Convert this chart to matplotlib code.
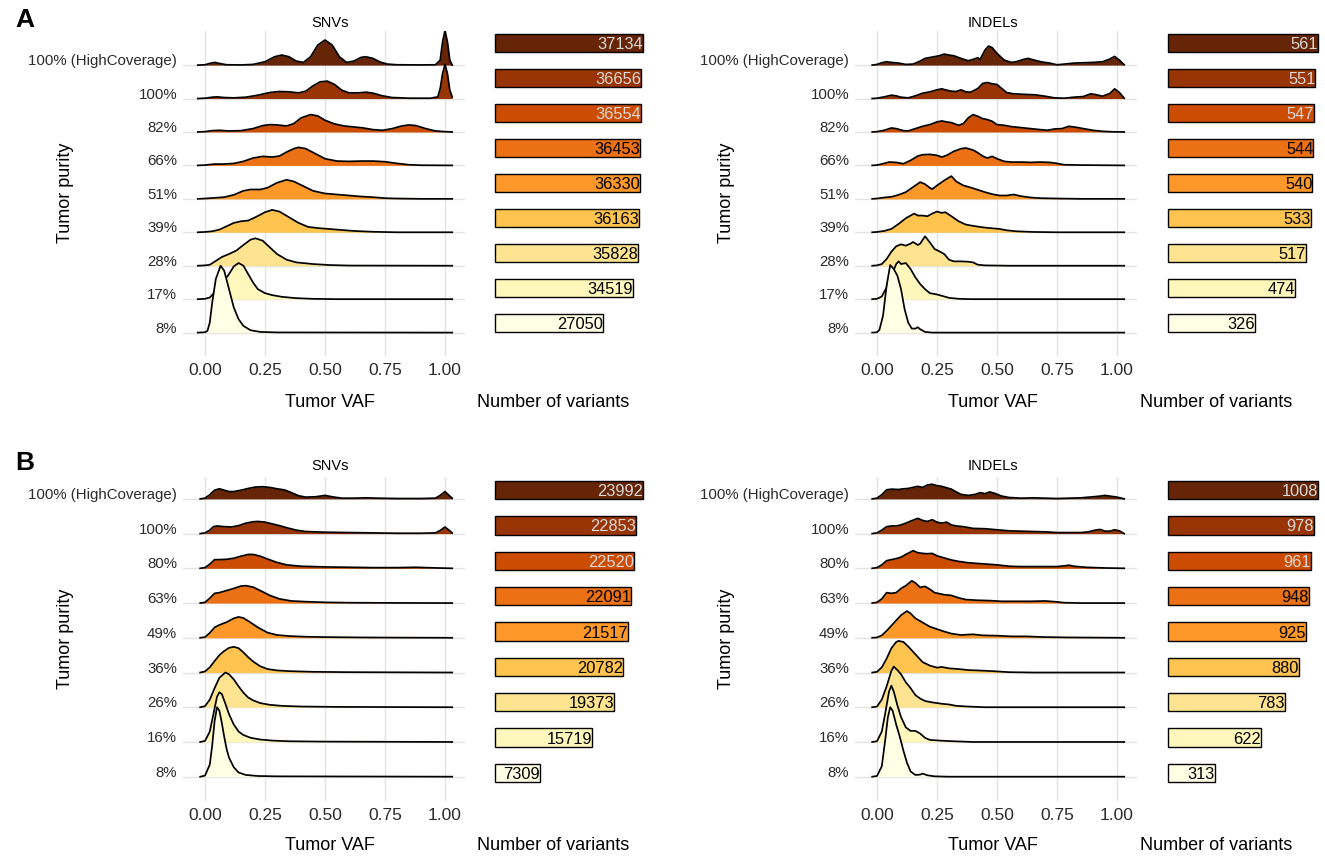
import numpy as np
import matplotlib
matplotlib.use('Agg')
import matplotlib.pyplot as plt

plt.rcParams['font.family'] = ['Liberation Sans', 'DejaVu Sans']

W, H = 1325, 856

# Tumor purity levels (top -> bottom)
purity_a = ['100% (HighCoverage)', '100%', '82%', '66%', '51%', '39%', '28%', '17%', '8%']
purity_b = ['100% (HighCoverage)', '100%', '80%', '63%', '49%', '36%', '26%', '16%', '8%']

# YlOrBr, dark to light
colors = ['#662506', '#993404', '#cc4c02', '#ec7014', '#fe9929',
          '#fec44f', '#fee391', '#fff7bc', '#ffffe5']

# Number of variants (top -> bottom)
snv_a_counts = [37134, 36656, 36554, 36453, 36330, 36163, 35828, 34519, 27050]
indel_a_counts = [561, 551, 547, 544, 540, 533, 517, 474, 326]
snv_b_counts = [23992, 22853, 22520, 22091, 21517, 20782, 19373, 15719, 7309]
indel_b_counts = [1008, 978, 961, 948, 925, 880, 783, 622, 313]

# Density curves: (VAF, height in row units), top -> bottom
snv_a = [
    [(-0.03, 0), (0.0, 0.01), (0.02, 0.05), (0.04, 0.08), (0.06, 0.05), (0.09, 0.01), (0.15, 0.005), (0.2, 0.02),
     (0.25, 0.1), (0.29, 0.25), (0.32, 0.3), (0.35, 0.25), (0.38, 0.12), (0.41, 0.08), (0.44, 0.25), (0.47, 0.6),
     (0.50, 0.75), (0.53, 0.6), (0.56, 0.25), (0.59, 0.08), (0.62, 0.12), (0.65, 0.23), (0.67, 0.25), (0.70, 0.2),
     (0.73, 0.09), (0.76, 0.03), (0.8, 0.01), (0.9, 0.005), (0.96, 0.01), (0.98, 0.15), (0.99, 0.7), (1.0, 1.03),
     (1.01, 0.7), (1.02, 0.15), (1.03, 0.0)],
    [(-0.03, 0), (0.0, 0.01), (0.03, 0.04), (0.05, 0.05), (0.08, 0.03), (0.12, 0.02), (0.17, 0.04), (0.22, 0.1),
     (0.27, 0.18), (0.31, 0.21), (0.35, 0.2), (0.39, 0.17), (0.42, 0.22), (0.45, 0.38), (0.48, 0.5), (0.51, 0.52),
     (0.54, 0.42), (0.57, 0.25), (0.60, 0.17), (0.64, 0.17), (0.67, 0.19), (0.70, 0.16), (0.74, 0.08), (0.78, 0.03),
     (0.85, 0.01), (0.94, 0.01), (0.97, 0.05), (0.98, 0.3), (0.99, 0.75), (1.0, 1.02), (1.01, 0.75), (1.02, 0.25),
     (1.03, 0.05)],
    [(-0.03, 0), (0.0, 0.01), (0.03, 0.04), (0.06, 0.05), (0.1, 0.03), (0.15, 0.04), (0.2, 0.1), (0.24, 0.19),
     (0.27, 0.22), (0.30, 0.21), (0.34, 0.18), (0.37, 0.25), (0.40, 0.42), (0.44, 0.52), (0.47, 0.48), (0.50, 0.35),
     (0.54, 0.24), (0.58, 0.18), (0.62, 0.15), (0.66, 0.12), (0.70, 0.07), (0.74, 0.05), (0.78, 0.1), (0.82, 0.18),
     (0.85, 0.21), (0.88, 0.19), (0.92, 0.1), (0.96, 0.03), (1.0, 0.01), (1.03, 0.0)],
    [(-0.03, 0), (0.0, 0.01), (0.04, 0.04), (0.08, 0.04), (0.12, 0.06), (0.16, 0.12), (0.2, 0.22), (0.24, 0.27),
     (0.28, 0.25), (0.31, 0.28), (0.34, 0.4), (0.37, 0.5), (0.39, 0.54), (0.42, 0.5), (0.46, 0.35), (0.50, 0.2),
     (0.55, 0.13), (0.6, 0.12), (0.65, 0.13), (0.7, 0.13), (0.75, 0.11), (0.8, 0.06), (0.85, 0.02), (0.9, 0.005),
     (1.03, 0.0)],
    [(-0.03, 0), (0.0, 0.01), (0.04, 0.03), (0.08, 0.05), (0.12, 0.12), (0.16, 0.24), (0.19, 0.28), (0.23, 0.28),
     (0.26, 0.33), (0.30, 0.48), (0.34, 0.57), (0.37, 0.52), (0.41, 0.38), (0.45, 0.24), (0.5, 0.16), (0.55, 0.13),
     (0.6, 0.1), (0.65, 0.07), (0.7, 0.05), (0.75, 0.02), (0.8, 0.01), (0.9, 0.0), (1.03, 0.0)],
    [(-0.03, 0), (0.0, 0.01), (0.03, 0.03), (0.06, 0.08), (0.09, 0.18), (0.12, 0.28), (0.15, 0.33), (0.18, 0.35),
     (0.21, 0.45), (0.25, 0.6), (0.28, 0.67), (0.31, 0.62), (0.35, 0.45), (0.39, 0.28), (0.43, 0.16), (0.48, 0.12),
     (0.55, 0.08), (0.62, 0.04), (0.7, 0.015), (0.8, 0.0), (1.03, 0.0)],
    [(-0.03, 0), (0.0, 0.01), (0.02, 0.03), (0.04, 0.12), (0.07, 0.26), (0.10, 0.35), (0.13, 0.45), (0.16, 0.62),
     (0.19, 0.78), (0.21, 0.82), (0.24, 0.75), (0.27, 0.55), (0.30, 0.35), (0.34, 0.18), (0.38, 0.1), (0.45, 0.05),
     (0.52, 0.02), (0.6, 0.005), (1.03, 0.0)],
    [(-0.03, 0), (0.0, 0.01), (0.02, 0.05), (0.04, 0.2), (0.06, 0.4), (0.08, 0.55), (0.10, 0.75), (0.12, 0.98),
     (0.14, 1.08), (0.16, 1.0), (0.18, 0.75), (0.20, 0.5), (0.22, 0.3), (0.25, 0.18), (0.28, 0.12), (0.32, 0.07),
     (0.38, 0.03), (0.45, 0.01), (0.55, 0.0), (1.03, 0.0)],
    [(-0.03, 0), (0.0, 0.01), (0.01, 0.05), (0.02, 0.3), (0.03, 0.9), (0.045, 1.6), (0.065, 2.0), (0.08, 1.85),
     (0.10, 1.3), (0.12, 0.75), (0.14, 0.4), (0.16, 0.2), (0.19, 0.07), (0.23, 0.02), (0.3, 0.005), (1.03, 0.0)],
]

indel_a = [
    [(-0.02, 0), (0.0, 0.02), (0.02, 0.07), (0.04, 0.1), (0.06, 0.08), (0.09, 0.06), (0.12, 0.02), (0.15, 0.03),
     (0.18, 0.12), (0.2, 0.2), (0.23, 0.24), (0.26, 0.28), (0.28, 0.33), (0.30, 0.3), (0.32, 0.28), (0.35, 0.2),
     (0.38, 0.13), (0.40, 0.17), (0.42, 0.22), (0.43, 0.17), (0.45, 0.45), (0.465, 0.57), (0.48, 0.52), (0.5, 0.35),
     (0.53, 0.15), (0.56, 0.08), (0.58, 0.1), (0.61, 0.17), (0.63, 0.2), (0.66, 0.14), (0.69, 0.09), (0.72, 0.06),
     (0.75, 0.01), (0.78, 0.03), (0.82, 0.06), (0.86, 0.07), (0.9, 0.08), (0.94, 0.1), (0.97, 0.18), (0.99, 0.26),
     (1.01, 0.15), (1.03, 0.01)],
    [(-0.02, 0), (0.0, 0.01), (0.03, 0.05), (0.06, 0.1), (0.08, 0.08), (0.1, 0.04), (0.13, 0.02), (0.16, 0.08),
     (0.19, 0.16), (0.22, 0.2), (0.25, 0.26), (0.27, 0.29), (0.29, 0.25), (0.31, 0.22), (0.33, 0.21), (0.35, 0.26),
     (0.37, 0.2), (0.39, 0.19), (0.42, 0.3), (0.44, 0.45), (0.46, 0.48), (0.48, 0.44), (0.50, 0.42), (0.52, 0.3),
     (0.54, 0.18), (0.57, 0.14), (0.60, 0.13), (0.63, 0.12), (0.66, 0.11), (0.7, 0.07), (0.74, 0.02), (0.78, 0.01),
     (0.82, 0.04), (0.86, 0.06), (0.89, 0.14), (0.91, 0.12), (0.94, 0.07), (0.97, 0.15), (0.99, 0.29), (1.01, 0.18),
     (1.03, 0.01)],
    [(-0.02, 0), (0.0, 0.01), (0.03, 0.05), (0.06, 0.12), (0.08, 0.1), (0.11, 0.04), (0.13, 0.03), (0.16, 0.1),
     (0.19, 0.17), (0.22, 0.22), (0.25, 0.3), (0.27, 0.33), (0.29, 0.3), (0.31, 0.28), (0.34, 0.2), (0.36, 0.25),
     (0.38, 0.42), (0.40, 0.52), (0.42, 0.47), (0.44, 0.4), (0.46, 0.37), (0.48, 0.32), (0.50, 0.22), (0.53, 0.2),
     (0.56, 0.16), (0.6, 0.13), (0.64, 0.1), (0.68, 0.07), (0.71, 0.05), (0.74, 0.09), (0.77, 0.1), (0.80, 0.17),
     (0.83, 0.14), (0.86, 0.1), (0.9, 0.05), (0.94, 0.02), (0.98, 0.005), (1.03, 0.0)],
    [(-0.02, 0), (0.0, 0.01), (0.03, 0.06), (0.05, 0.1), (0.08, 0.09), (0.11, 0.05), (0.14, 0.15), (0.17, 0.28),
     (0.19, 0.32), (0.22, 0.33), (0.25, 0.3), (0.27, 0.25), (0.29, 0.3), (0.32, 0.42), (0.35, 0.5), (0.37, 0.52),
     (0.40, 0.46), (0.42, 0.38), (0.44, 0.28), (0.46, 0.22), (0.48, 0.27), (0.50, 0.2), (0.53, 0.12), (0.56, 0.1),
     (0.6, 0.1), (0.64, 0.09), (0.68, 0.1), (0.72, 0.09), (0.75, 0.06), (0.78, 0.02), (0.85, 0.01), (1.03, 0.0)],
    [(-0.02, 0), (0.0, 0.01), (0.03, 0.04), (0.06, 0.06), (0.09, 0.12), (0.12, 0.2), (0.15, 0.35), (0.18, 0.5),
     (0.20, 0.44), (0.22, 0.33), (0.23, 0.29), (0.25, 0.4), (0.28, 0.55), (0.31, 0.68), (0.33, 0.52), (0.36, 0.4),
     (0.39, 0.34), (0.42, 0.27), (0.45, 0.2), (0.48, 0.14), (0.51, 0.1), (0.54, 0.1), (0.57, 0.13), (0.6, 0.08),
     (0.64, 0.04), (0.68, 0.02), (0.75, 0.01), (0.85, 0.0), (1.03, 0.0)],
    [(-0.02, 0), (0.0, 0.01), (0.03, 0.04), (0.06, 0.1), (0.09, 0.25), (0.12, 0.42), (0.14, 0.5), (0.155, 0.56),
     (0.17, 0.5), (0.19, 0.5), (0.21, 0.48), (0.23, 0.56), (0.25, 0.62), (0.27, 0.58), (0.285, 0.6), (0.31, 0.48),
     (0.34, 0.33), (0.37, 0.23), (0.41, 0.18), (0.45, 0.14), (0.48, 0.12), (0.51, 0.1), (0.54, 0.06), (0.58, 0.03),
     (0.65, 0.01), (0.75, 0.0), (1.03, 0.0)],
    [(-0.02, 0), (0.0, 0.01), (0.02, 0.05), (0.04, 0.2), (0.06, 0.42), (0.08, 0.58), (0.10, 0.64), (0.12, 0.6),
     (0.14, 0.66), (0.15, 0.71), (0.17, 0.62), (0.18, 0.66), (0.20, 0.88), (0.22, 0.7), (0.24, 0.5), (0.26, 0.43),
     (0.28, 0.35), (0.30, 0.18), (0.32, 0.13), (0.35, 0.13), (0.38, 0.12), (0.40, 0.1), (0.42, 0.03), (0.45, 0.01),
     (0.55, 0.0), (1.03, 0.0)],
    [(-0.02, 0), (0.0, 0.01), (0.02, 0.08), (0.04, 0.35), (0.06, 0.7), (0.08, 1.05), (0.09, 1.13), (0.10, 1.05),
     (0.12, 1.08), (0.14, 0.9), (0.16, 0.65), (0.18, 0.45), (0.20, 0.3), (0.22, 0.18), (0.25, 0.14), (0.27, 0.1),
     (0.3, 0.04), (0.34, 0.01), (0.4, 0.0), (1.03, 0.0)],
    [(-0.02, 0), (0.0, 0.01), (0.01, 0.08), (0.025, 0.5), (0.04, 1.4), (0.055, 2.02), (0.07, 1.9), (0.085, 1.7),
     (0.10, 1.3), (0.115, 0.7), (0.13, 0.3), (0.145, 0.12), (0.16, 0.12), (0.17, 0.16), (0.18, 0.1), (0.2, 0.02),
     (0.23, 0.0), (1.03, 0.0)],
]

snv_b = [
    [(-0.02, 0), (0.0, 0.02), (0.02, 0.12), (0.04, 0.25), (0.06, 0.29), (0.08, 0.25), (0.10, 0.21), (0.12, 0.21),
     (0.15, 0.25), (0.18, 0.3), (0.21, 0.34), (0.24, 0.35), (0.27, 0.33), (0.30, 0.29), (0.33, 0.26), (0.36, 0.18),
     (0.39, 0.09), (0.42, 0.05), (0.46, 0.06), (0.5, 0.1), (0.53, 0.06), (0.57, 0.02), (0.62, 0.02), (0.67, 0.03),
     (0.72, 0.02), (0.8, 0.01), (0.9, 0.01), (0.96, 0.02), (0.98, 0.1), (1.0, 0.21), (1.02, 0.08), (1.03, 0.02)],
    [(-0.02, 0), (0.0, 0.02), (0.02, 0.1), (0.035, 0.2), (0.05, 0.22), (0.08, 0.2), (0.11, 0.19), (0.14, 0.23),
     (0.17, 0.3), (0.20, 0.34), (0.22, 0.35), (0.25, 0.33), (0.28, 0.28), (0.31, 0.23), (0.34, 0.17), (0.38, 0.1),
     (0.42, 0.06), (0.5, 0.04), (0.6, 0.03), (0.7, 0.02), (0.8, 0.01), (0.9, 0.01), (0.96, 0.02), (0.98, 0.09),
     (1.0, 0.19), (1.02, 0.08), (1.03, 0.02)],
    [(-0.02, 0), (0.0, 0.02), (0.02, 0.12), (0.04, 0.25), (0.06, 0.25), (0.09, 0.26), (0.12, 0.29), (0.15, 0.35),
     (0.18, 0.4), (0.20, 0.4), (0.23, 0.35), (0.26, 0.27), (0.30, 0.17), (0.34, 0.1), (0.4, 0.06), (0.5, 0.04),
     (0.6, 0.03), (0.7, 0.02), (0.8, 0.02), (0.88, 0.03), (0.92, 0.02), (0.97, 0.01), (1.03, 0.0)],
    [(-0.02, 0), (0.0, 0.02), (0.02, 0.14), (0.04, 0.28), (0.06, 0.3), (0.09, 0.36), (0.12, 0.42), (0.15, 0.49),
     (0.17, 0.5), (0.20, 0.46), (0.23, 0.36), (0.27, 0.22), (0.31, 0.12), (0.36, 0.06), (0.42, 0.04), (0.5, 0.02),
     (0.6, 0.01), (0.75, 0.005), (1.03, 0.0)],
    [(-0.02, 0), (0.0, 0.02), (0.02, 0.14), (0.04, 0.3), (0.06, 0.37), (0.09, 0.45), (0.12, 0.56), (0.14, 0.6),
     (0.16, 0.57), (0.19, 0.44), (0.22, 0.3), (0.26, 0.15), (0.30, 0.08), (0.35, 0.05), (0.42, 0.03), (0.5, 0.02),
     (0.65, 0.01), (0.8, 0.005), (1.03, 0.0)],
    [(-0.02, 0), (0.0, 0.03), (0.02, 0.15), (0.04, 0.33), (0.06, 0.5), (0.08, 0.62), (0.10, 0.71), (0.12, 0.74),
     (0.14, 0.7), (0.16, 0.58), (0.18, 0.44), (0.20, 0.32), (0.23, 0.18), (0.26, 0.1), (0.3, 0.06), (0.35, 0.04),
     (0.45, 0.02), (0.6, 0.01), (1.03, 0.0)],
    [(-0.02, 0), (0.0, 0.03), (0.02, 0.22), (0.04, 0.55), (0.06, 0.85), (0.085, 1.0), (0.10, 0.95), (0.12, 0.8),
     (0.14, 0.6), (0.16, 0.42), (0.18, 0.28), (0.20, 0.2), (0.23, 0.12), (0.27, 0.07), (0.32, 0.04), (0.4, 0.02),
     (0.55, 0.01), (1.03, 0.0)],
    [(-0.02, 0), (0.0, 0.03), (0.02, 0.3), (0.035, 0.8), (0.05, 1.3), (0.06, 1.43), (0.07, 1.38), (0.085, 1.1),
     (0.10, 0.8), (0.12, 0.5), (0.14, 0.3), (0.16, 0.2), (0.19, 0.12), (0.23, 0.07), (0.28, 0.04), (0.35, 0.02),
     (0.5, 0.01), (1.03, 0.0)],
    [(-0.02, 0), (0.0, 0.03), (0.02, 0.35), (0.03, 0.9), (0.04, 1.6), (0.05, 2.0), (0.06, 1.9), (0.07, 1.55),
     (0.08, 1.15), (0.09, 0.8), (0.10, 0.55), (0.12, 0.27), (0.14, 0.12), (0.17, 0.05), (0.22, 0.02), (0.3, 0.01),
     (1.03, 0.0)],
]

indel_b = [
    [(-0.02, 0), (0.0, 0.02), (0.02, 0.12), (0.04, 0.26), (0.06, 0.28), (0.09, 0.27), (0.11, 0.29), (0.13, 0.3),
     (0.15, 0.33), (0.17, 0.36), (0.19, 0.33), (0.21, 0.4), (0.23, 0.42), (0.25, 0.38), (0.27, 0.36), (0.29, 0.32),
     (0.31, 0.28), (0.33, 0.2), (0.35, 0.13), (0.38, 0.1), (0.41, 0.13), (0.43, 0.18), (0.45, 0.15), (0.47, 0.2),
     (0.49, 0.16), (0.52, 0.08), (0.55, 0.04), (0.6, 0.02), (0.65, 0.03), (0.7, 0.02), (0.75, 0.01), (0.8, 0.02),
     (0.85, 0.03), (0.9, 0.06), (0.93, 0.08), (0.95, 0.1), (0.97, 0.08), (1.0, 0.05), (1.03, 0.0)],
    [(-0.02, 0), (0.0, 0.02), (0.02, 0.1), (0.04, 0.2), (0.06, 0.22), (0.08, 0.22), (0.10, 0.25), (0.12, 0.3),
     (0.14, 0.36), (0.17, 0.44), (0.19, 0.38), (0.21, 0.35), (0.23, 0.4), (0.25, 0.33), (0.27, 0.3), (0.29, 0.33),
     (0.31, 0.25), (0.33, 0.22), (0.36, 0.2), (0.4, 0.15), (0.45, 0.14), (0.5, 0.11), (0.55, 0.08), (0.6, 0.07),
     (0.65, 0.06), (0.7, 0.05), (0.75, 0.03), (0.8, 0.03), (0.85, 0.03), (0.88, 0.05), (0.91, 0.1), (0.93, 0.12),
     (0.95, 0.07), (0.97, 0.07), (0.99, 0.11), (1.01, 0.08), (1.03, 0.0)],
    [(-0.02, 0), (0.0, 0.02), (0.02, 0.1), (0.04, 0.22), (0.06, 0.25), (0.08, 0.28), (0.10, 0.32), (0.12, 0.4),
     (0.14, 0.47), (0.15, 0.51), (0.17, 0.45), (0.19, 0.43), (0.21, 0.42), (0.23, 0.43), (0.25, 0.36), (0.28, 0.3),
     (0.31, 0.24), (0.34, 0.2), (0.38, 0.16), (0.42, 0.14), (0.46, 0.12), (0.5, 0.1), (0.55, 0.06), (0.6, 0.05),
     (0.65, 0.05), (0.7, 0.05), (0.75, 0.05), (0.78, 0.07), (0.80, 0.09), (0.82, 0.06), (0.87, 0.03), (0.95, 0.01),
     (1.03, 0.0)],
    [(-0.02, 0), (0.0, 0.02), (0.02, 0.12), (0.04, 0.3), (0.06, 0.28), (0.08, 0.3), (0.10, 0.42), (0.12, 0.5),
     (0.145, 0.64), (0.16, 0.58), (0.18, 0.45), (0.20, 0.48), (0.22, 0.4), (0.24, 0.3), (0.26, 0.27), (0.28, 0.24),
     (0.31, 0.22), (0.34, 0.15), (0.37, 0.1), (0.42, 0.08), (0.47, 0.07), (0.52, 0.05), (0.58, 0.05), (0.64, 0.05),
     (0.7, 0.06), (0.74, 0.04), (0.78, 0.01), (0.85, 0.0), (1.03, 0.0)],
    [(-0.02, 0), (0.0, 0.01), (0.02, 0.07), (0.04, 0.2), (0.06, 0.35), (0.08, 0.5), (0.10, 0.65), (0.125, 0.77),
     (0.14, 0.7), (0.16, 0.56), (0.18, 0.48), (0.20, 0.4), (0.22, 0.32), (0.25, 0.25), (0.28, 0.18), (0.31, 0.12),
     (0.35, 0.08), (0.40, 0.1), (0.44, 0.07), (0.5, 0.06), (0.56, 0.04), (0.62, 0.04), (0.7, 0.02), (0.8, 0.01),
     (1.03, 0.0)],
    [(-0.02, 0), (0.0, 0.02), (0.02, 0.15), (0.04, 0.4), (0.06, 0.7), (0.08, 0.88), (0.09, 0.91), (0.11, 0.88),
     (0.13, 0.75), (0.15, 0.6), (0.17, 0.45), (0.19, 0.3), (0.22, 0.2), (0.25, 0.14), (0.27, 0.16), (0.30, 0.12),
     (0.34, 0.1), (0.38, 0.07), (0.42, 0.06), (0.48, 0.04), (0.55, 0.01), (0.65, 0.0), (1.03, 0.0)],
    [(-0.02, 0), (0.0, 0.02), (0.02, 0.22), (0.04, 0.6), (0.06, 1.05), (0.07, 1.17), (0.085, 1.07), (0.10, 0.95),
     (0.12, 0.72), (0.14, 0.55), (0.16, 0.35), (0.18, 0.25), (0.20, 0.18), (0.23, 0.14), (0.27, 0.1), (0.3, 0.08),
     (0.33, 0.04), (0.38, 0.02), (0.45, 0.0), (1.03, 0.0)],
    [(-0.02, 0), (0.0, 0.02), (0.02, 0.3), (0.035, 0.85), (0.05, 1.45), (0.06, 1.62), (0.07, 1.45), (0.085, 1.05),
     (0.10, 0.72), (0.12, 0.42), (0.14, 0.32), (0.16, 0.32), (0.18, 0.24), (0.20, 0.12), (0.22, 0.06), (0.26, 0.04),
     (0.32, 0.02), (0.4, 0.0), (1.03, 0.0)],
    [(-0.02, 0), (0.0, 0.02), (0.02, 0.3), (0.035, 1.1), (0.045, 1.7), (0.055, 2.0), (0.065, 1.9), (0.08, 1.5),
     (0.095, 1.15), (0.11, 0.75), (0.125, 0.4), (0.14, 0.15), (0.16, 0.05), (0.18, 0.06), (0.19, 0.09), (0.21, 0.04),
     (0.24, 0.01), (0.3, 0.0), (1.03, 0.0)],
]

fig = plt.figure(figsize=(W / 100, H / 100), dpi=100)
fig.patch.set_facecolor('white')


def box(left, top, right, bottom):
    # pixel box -> axes
    return fig.add_axes([left / W, 1 - bottom / H, (right - left) / W, (bottom - top) / H])


def ridges(ax, data, labels, top_pad):
    n = len(data)
    for i, pts in enumerate(data):
        base = n - 1 - i
        x = [p[0] for p in pts]
        y = [base + p[1] for p in pts]
        ax.fill_between(x, base, y, color=colors[i], lw=0, zorder=2 + i)
        ax.plot(x, y, color='black', lw=1.25, zorder=2 + i, solid_joinstyle='round')
    ax.set_xlim(-0.09, 1.085)
    ax.set_ylim(-0.7, n - 1 + top_pad)
    ax.set_yticks(range(n))
    ax.set_yticklabels(labels[::-1], fontsize=10.8, color='#2b2b2b')
    for t in ax.get_yticklabels():
        t.set_va('baseline')
    ax.set_xticks([0, 0.25, 0.5, 0.75, 1.0])
    ax.set_xticklabels(['0.00', '0.25', '0.50', '0.75', '1.00'], fontsize=12.5, color='#2b2b2b')
    ax.tick_params(length=0, pad=4.5)
    ax.tick_params(axis='x', pad=5)
    ax.grid(color='#e3e3e3', lw=1.0)
    ax.set_axisbelow(True)
    for s in ax.spines.values():
        s.set_visible(False)


def bars(ax, counts):
    n = len(counts)
    y = np.arange(n)[::-1]
    ax.barh(y, counts, height=0.52, color=colors, edgecolor='black', lw=1.0, clip_on=False)
    for i in range(n):
        ax.text(counts[i], y[i], str(counts[i]), ha='right', va='center_baseline', fontsize=11.8,
                color='#d9d9d9' if i < 3 else 'black', clip_on=False)
    ax.set_xlim(0, max(counts))
    ax.set_ylim(-0.5, n - 0.5)
    ax.axis('off')


# Panel A
ax = box(183.4, 31, 465.4, 356)
ridges(ax, snv_a, purity_a, 1.02)
ax = box(855.4, 31, 1137.4, 356)
ridges(ax, indel_a, purity_a, 1.02)
ax = box(494.5, 25.7, 643, 340.7)
bars(ax, snv_a_counts)
ax = box(1168, 25.7, 1318, 340.7)
bars(ax, indel_a_counts)

# Panel B
ax = box(183.4, 477, 465.4, 801)
ridges(ax, snv_b, purity_b, 0.63)
ax = box(855.4, 477, 1137.4, 801)
ridges(ax, indel_b, purity_b, 0.63)
ax = box(494.5, 472.3, 643, 790.7)
bars(ax, snv_b_counts)
ax = box(1168, 472.3, 1318, 790.7)
bars(ax, indel_b_counts)


def ftext(x, y, s, **kw):
    fig.text(x / W, 1 - y / H, s, ha='center', va='center', **kw)


ftext(25, 20, 'A', fontsize=19, fontweight='bold')
ftext(25, 463, 'B', fontsize=19, fontweight='bold')
for yy_t, yy_x, yy_p in [(23, 403, 193), (466, 846, 639)]:
    ftext(330, yy_t, 'SNVs', fontsize=10.5)
    ftext(993, yy_t, 'INDELs', fontsize=10.5)
    ftext(330, yy_x, 'Tumor VAF', fontsize=13)
    ftext(993, yy_x, 'Tumor VAF', fontsize=13)
    ftext(553, yy_x, 'Number of variants', fontsize=13)
    ftext(1216, yy_x, 'Number of variants', fontsize=13)
    ftext(65, yy_p, 'Tumor purity', fontsize=13, rotation=90)
    ftext(727, yy_p, 'Tumor purity', fontsize=13, rotation=90)

fig.savefig('out.png', dpi=100)
